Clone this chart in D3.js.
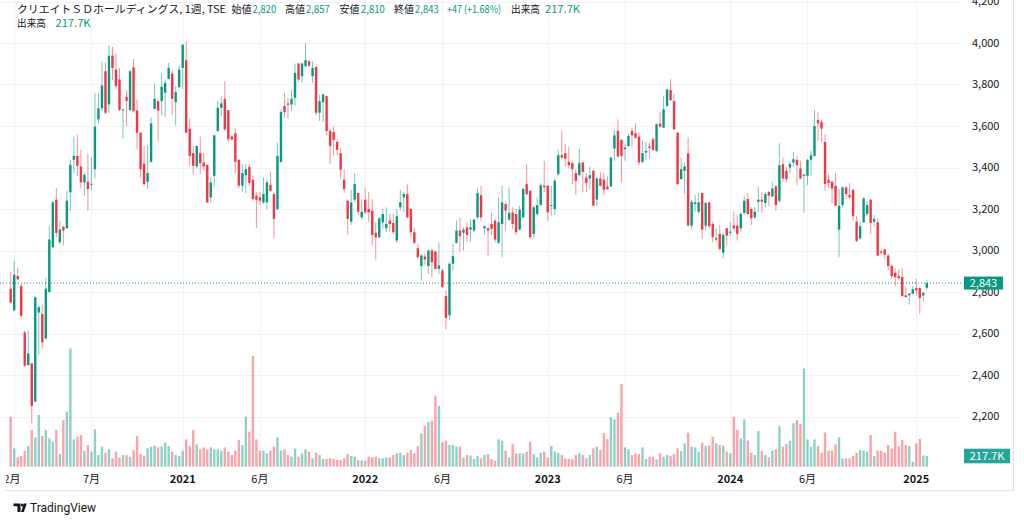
<!DOCTYPE html>
<html><head><meta charset="utf-8">
<script src="https://cdn.jsdelivr.net/npm/d3@7"></script>
<style>
body{margin:0;background:#fff;}
svg{display:block;font-family:"Noto Sans CJK JP","Noto Sans",sans-serif;}
</style>
</head><body>
<svg id="c" width="1024" height="523"></svg>
<script>
// ---------- DATA ----------
const startDate = "2020-01-27"; // first weekly bar (Monday)
const open = [2816,2712,2877,2829,2605,2448,2456,2272,2701,2694,2576,2800,3016,3245,3040,3115,3107,3280,3437,3456,3405,3328,3331,3320,3392,3632,3685,3864,3704,3939,3872,3824,3677,3741,3677,3883,3675,3568,3419,3331,3427,3683,3720,3720,3760,3827,3853,3715,3787,3880,3917,3587,
3469,3405,3469,3424,3413,3256,3360,3576,3688,3731,3677,3549,3565,3437,3312,3363,3403,3341,3264,3256,3232,3232,3317,3272,3200,3427,3696,3709,3704,3736,3901,3840,3888,3912,3840,3885,3664,3715,3744,3576,3571,3523,3469,3341,3240,3139,3245,3277,3160,3245,3200,3192,3085,
3064,3136,3107,3144,3133,3048,3208,3256,3272,3200,3088,3011,2925,2971,2925,3000,2995,2912,2904,2781,2688,2936,3037,3096,3085,3112,3101,3096,3160,3267,3107,3107,3128,3144,3037,3128,3224,3149,3184,3176,3101,3160,3320,3288,3080,3176,3219,3312,3312,3216,3200,3368,3459,
3469,3427,3421,3373,3363,3424,3352,3347,3384,3245,3347,3341,3309,3309,3491,3576,3533,3488,3504,3576,3565,3549,3427,3472,3501,3536,3480,3611,3592,3696,3773,3720,3568,3344,3384,3469,3120,3224,3187,3277,3120,3232,3128,3053,3080,2989,3107,3085,3120,3120,3107,3181,
3248,3200,3160,3235,3245,3229,3283,3261,3309,3240,3416,3384,3400,3424,3437,3395,3360,3360,3437,3456,3629,3619,3523,3341,3331,3312,3101,3219,3304,3267,3293,3139,3059,3136,3176,3245,3139,3136,2995,3005,2976,2925,2893,2877,2872,2784,2784,2792,2819,2819,2784,2820];
const high = [2899,2950,2917,2840,2614,2614,2460,2780,2736,2739,2867,3117,3240,3301,3144,3115,3286,3435,3549,3558,3485,3376,3466,3451,3760,3760,3912,3907,3990,3981,3949,3880,3683,3773,3872,3923,3728,3568,3504,3507,3640,3805,3731,3856,3824,3904,3872,3792,3891,3992,4008,3635,
3504,3507,3549,3469,3413,3352,3555,3720,3744,3816,3677,3555,3587,3440,3416,3416,3416,3360,3280,3280,3352,3341,3381,3280,3520,3680,3760,3736,3773,3901,3904,3904,4000,3917,3912,3885,3752,3757,3747,3587,3597,3536,3496,3392,3245,3293,3373,3277,3248,3299,3283,3248,3136,
3160,3200,3208,3176,3176,3200,3293,3283,3320,3203,3107,3032,2984,2984,3005,3008,3000,3037,2915,2808,2944,3032,3144,3155,3112,3136,3152,3152,3299,3312,3120,3112,3181,3149,3256,3312,3235,3304,3208,3200,3216,3304,3416,3288,3216,3256,3325,3432,3315,3312,3347,3485,3576,
3512,3501,3432,3392,3491,3427,3373,3405,3389,3352,3379,3373,3357,3451,3581,3632,3536,3512,3565,3592,3613,3568,3528,3523,3520,3549,3613,3667,3744,3779,3827,3752,3571,3448,3424,3544,3245,3267,3277,3277,3232,3232,3139,3107,3123,3085,3107,3136,3187,3171,3184,3261,
3277,3208,3208,3309,3280,3283,3283,3331,3315,3517,3448,3405,3432,3475,3456,3432,3368,3440,3480,3677,3667,3632,3560,3368,3336,3373,3296,3309,3309,3325,3293,3165,3136,3256,3240,3248,3171,3155,3008,3008,2984,2936,2912,2909,2915,2824,2797,2829,2864,2824,2800,2857];
const low = [2744,2707,2856,2672,2440,2444,2168,2269,2496,2528,2573,2797,3013,3064,3032,3024,3104,3192,3373,3360,3299,3264,3192,3293,3347,3613,3672,3656,3664,3821,3779,3672,3539,3600,3672,3664,3488,3352,3312,3296,3424,3680,3526,3651,3645,3824,3651,3603,3784,3779,3565,3408,
3365,3395,3368,3384,3229,3232,3309,3571,3648,3576,3523,3528,3373,3299,3283,3277,3312,3240,3109,3219,3224,3200,3283,3059,3192,3424,3640,3635,3672,3699,3811,3808,3885,3885,3808,3651,3624,3619,3555,3416,3456,3459,3344,3277,3077,3123,3232,3171,3149,3176,3139,3024,2957,
3059,3104,3088,3091,3080,3037,3192,3187,3155,3064,3032,2960,2856,2931,2888,2872,2909,2888,2819,2621,2664,2904,3032,2992,3000,3043,3043,3088,3149,3144,3075,2976,3075,3040,3032,2968,3096,3144,3104,3075,3096,3155,3267,3056,3059,3168,3216,3280,3144,3168,3171,3360,3440,
3405,3395,3320,3267,3360,3283,3280,3296,3213,3213,3309,3267,3293,3304,3432,3448,3328,3432,3501,3501,3536,3411,3421,3437,3443,3480,3475,3592,3589,3693,3720,3581,3315,3341,3272,3117,3101,3187,3176,3056,3096,3107,3040,3043,3000,2963,3024,3069,3091,3048,3091,3171,
3168,3123,3149,3184,3181,3208,3213,3256,3192,3229,3331,3328,3373,3405,3315,3344,3181,3315,3360,3453,3528,3523,3288,3299,3229,3213,2968,3208,3248,3251,3144,3040,3053,3133,3168,3080,3117,2973,2979,2960,2904,2864,2829,2856,2776,2771,2739,2787,2784,2696,2755,2810];
const close = [2749,2883,2861,2685,2445,2504,2251,2774,2726,2557,2816,3053,3232,3085,3101,3096,3240,3413,3456,3408,3328,3365,3296,3322,3597,3685,3795,3664,3939,3880,3792,3677,3680,3720,3864,3672,3568,3392,3320,3373,3613,3731,3674,3789,3808,3880,3731,3763,3872,3992,3568,3456,
3408,3504,3421,3405,3232,3328,3555,3688,3709,3584,3536,3536,3427,3312,3373,3392,3325,3248,3245,3240,3272,3328,3288,3152,3456,3667,3667,3702,3731,3856,3824,3901,3917,3891,3880,3664,3720,3752,3576,3504,3533,3485,3389,3296,3152,3232,3320,3187,3187,3184,3184,3075,3064,
3155,3176,3128,3128,3088,3165,3232,3272,3160,3088,3037,2968,2976,2957,3000,2944,2912,2928,2824,2675,2936,2973,3096,3069,3101,3075,3112,3149,3277,3160,3117,3096,3104,3053,3136,3232,3192,3181,3128,3088,3197,3296,3272,3064,3208,3219,3315,3304,3184,3219,3336,3459,3448,
3443,3411,3392,3336,3421,3379,3325,3363,3216,3347,3312,3293,3296,3448,3555,3453,3456,3496,3552,3555,3544,3424,3469,3480,3494,3485,3608,3597,3680,3776,3725,3584,3320,3392,3405,3120,3235,3232,3232,3101,3229,3117,3064,3059,3008,3075,3072,3091,3107,3080,3176,3240,
3176,3155,3187,3245,3235,3272,3264,3299,3219,3411,3347,3344,3416,3440,3411,3347,3366,3437,3459,3600,3613,3587,3320,3325,3299,3216,3216,3304,3272,3256,3165,3046,3117,3251,3219,3133,3152,2976,2989,2979,2925,2877,2872,2867,2781,2776,2792,2813,2808,2771,2796,2843];
const volume = [1020,373,190,217,325,420,746,597,1051,624,746,576,508,746,258,949,1119,2407,556,610,644,325,441,305,759,237,407,285,353,170,305,190,237,237,203,339,624,258,224,373,407,427,393,407,488,420,305,237,217,325,556,420,
746,454,353,393,353,393,353,353,325,393,305,237,325,542,441,1017,712,2251,556,325,325,271,325,407,597,325,353,237,203,373,203,271,353,305,170,285,237,156,156,170,156,136,136,170,258,217,203,136,122,122,203,190,203,
170,170,190,190,237,271,285,237,285,339,271,420,678,834,909,936,1444,1234,495,529,441,441,407,407,190,237,224,156,217,170,237,258,156,122,556,529,325,190,461,271,271,271,305,508,258,190,285,305,190,420,305,285,237,
170,156,149,237,271,237,170,237,373,407,339,678,563,1003,963,1098,1681,393,353,237,271,258,393,156,203,203,149,271,203,237,217,258,373,319,475,692,407,393,305,488,420,434,610,475,441,427,305,271,1017,746,576,963,
529,285,237,725,325,237,190,325,353,827,407,461,529,881,949,868,2000,556,407,556,420,285,698,325,325,454,597,170,170,170,217,285,339,325,305,644,217,325,325,285,441,366,712,420,542,441,420,102,475,563,231,217.7];

const priceTicks = [2200,2400,2600,2800,3000,3200,3400,3600,3800,4000,4200];
const timeTickDates = ["2020-02-03","2020-07-06","2021-01-04","2021-06-07","2022-01-03","2022-06-06","2023-01-02","2023-06-05","2024-01-01","2024-06-03","2025-01-06"];
const timeTickLabels = ["2月","7月","2021","6月","2022","6月","2023","6月","2024","6月","2025"];
const lastPrice = 2843;
const lastVolumeLabel = "217.7K";

// ---------- SETUP ----------
const UP = "#089981", DOWN = "#f23645", TXT = "#131722", GRID = "#f0f3fa";
const svg = d3.select("#c");
const fmtKey = d3.utcFormat("%Y-%m-%d");
const start = d3.utcParse("%Y-%m-%d")(startDate);
const bars = open.map((o, i) => ({
  key: fmtKey(d3.utcDay.offset(start, 7 * i)),
  o, h: high[i], l: low[i], c: close[i], v: volume[i]
}));

const step = 3.51;
const x = d3.scaleBand().domain(bars.map(d => d.key))
  .range([10.7 - step / 2, 10.7 - step / 2 + step * bars.length]).padding(0);
const cx = k => x(k) + x.bandwidth() / 2;
const y = d3.scaleLinear().domain([2000, 4200]).range([458, 1.5]);
const yv = d3.scaleLinear().domain([0, 217.7]).range([466.7, 456]);

const plotRight = 963;

svg.append("defs").append("clipPath").attr("id", "paneClip")
  .append("rect").attr("x", 6).attr("y", 0).attr("width", 1008).attr("height", 490);

// grid
svg.append("g").selectAll("line").data(priceTicks).join("line")
  .attr("x1", 0).attr("x2", plotRight)
  .attr("y1", d => Math.round(y(d)) + 0.5).attr("y2", d => Math.round(y(d)) + 0.5)
  .attr("stroke", GRID).attr("stroke-width", 1);
svg.append("g").selectAll("line").data(timeTickDates).join("line")
  .attr("x1", d => Math.round(cx(d)) + 0.5).attr("x2", d => Math.round(cx(d)) + 0.5)
  .attr("y1", 0).attr("y2", 466)
  .attr("stroke", GRID).attr("stroke-width", 1);

// frame
svg.append("line").attr("x1", 4).attr("x2", 1014).attr("y1", 490.5).attr("y2", 490.5).attr("stroke", "#e0e3eb");
svg.append("line").attr("x1", 1013.5).attr("x2", 1013.5).attr("y1", 0).attr("y2", 490.5).attr("stroke", "#e0e3eb");

// volume
const bw = 2.4;
svg.append("g").selectAll("rect").data(bars).join("rect")
  .attr("x", d => cx(d.key) - bw / 2)
  .attr("width", bw)
  .attr("y", d => yv(d.v))
  .attr("height", d => yv(0) - yv(d.v))
  .attr("fill", d => d.c >= d.o ? UP : DOWN)
  .attr("fill-opacity", 0.45);

// last price line
svg.append("line").attr("x1", 0).attr("x2", plotRight)
  .attr("y1", y(lastPrice)).attr("y2", y(lastPrice))
  .attr("stroke", UP).attr("stroke-width", 1).attr("stroke-dasharray", "1,2");

// wicks
svg.append("g").selectAll("line").data(bars).join("line")
  .attr("x1", d => cx(d.key)).attr("x2", d => cx(d.key))
  .attr("y1", d => y(d.h)).attr("y2", d => y(d.l))
  .attr("stroke", d => d.c >= d.o ? UP : DOWN)
  .attr("stroke-opacity", 0.55).attr("stroke-width", 1);

// bodies
svg.append("g").selectAll("rect").data(bars).join("rect")
  .attr("x", d => cx(d.key) - bw / 2)
  .attr("width", bw)
  .attr("y", d => y(Math.max(d.o, d.c)))
  .attr("height", d => Math.max(1, Math.abs(y(d.o) - y(d.c))))
  .attr("fill", d => d.c >= d.o ? UP : DOWN);

// price axis labels
const fmt = d3.format(",");
svg.append("g").selectAll("text").data(priceTicks).join("text")
  .attr("x", 972).attr("y", d => y(d)).attr("dy", "0.35em")
  .attr("font-size", 11).attr("fill", TXT).text(d => fmt(d));

// price badge
const py = y(lastPrice);
svg.append("rect").attr("x", 964).attr("y", py - 6.5).attr("width", 39).attr("height", 13).attr("fill", UP);
svg.append("text").attr("x", 983.5).attr("y", py).attr("dy", "0.35em").attr("text-anchor", "middle")
  .attr("font-size", 11).attr("fill", "#fff").text(fmt(lastPrice));
// volume badge
const vy = yv(volume[volume.length - 1]);
svg.append("rect").attr("x", 964).attr("y", vy - 7.3).attr("width", 46).attr("height", 14.6).attr("fill", "#26a69a");
svg.append("text").attr("x", 987).attr("y", vy).attr("dy", "0.35em").attr("text-anchor", "middle")
  .attr("font-size", 11).attr("fill", "#fff").text(lastVolumeLabel);

// time axis labels
svg.append("g").attr("clip-path", "url(#paneClip)").selectAll("text").data(timeTickDates).join("text")
  .attr("x", (d, i) => i === 0 ? 12 : cx(d)).attr("y", 479).attr("dy", "0.35em").attr("text-anchor", "middle")
  .attr("font-size", 11).attr("fill", TXT)
  .attr("font-weight", (d, i) => /^\d{4}$/.test(timeTickLabels[i]) ? 700 : 400)
  .text((d, i) => timeTickLabels[i]);

// header legend
const h = svg.append("g").attr("font-size", 10.5);
const seg = (tx, ty, s, col, w) => {
  const t = h.append("text").attr("x", tx).attr("y", ty).attr("dy", "0.35em").attr("fill", col).text(s);
  if (w) t.attr("textLength", w).attr("lengthAdjust", "spacingAndGlyphs");
};
const chg = lastPrice - close[close.length - 2];
seg(17, 9, "クリエイトＳＤホールディングス, 1週, TSE", TXT, 209);
seg(231.5, 9, "始値", TXT, 20); seg(252.6, 9, fmt(open[open.length - 1]), UP, 23.7);
seg(285, 9, "高値", TXT, 20); seg(306, 9, fmt(high[high.length - 1]), UP, 23.7);
seg(339.5, 9, "安値", TXT, 20); seg(361, 9, fmt(low[low.length - 1]), UP, 23.7);
seg(394, 9, "終値", TXT, 20); seg(415, 9, fmt(lastPrice), UP, 23.7);
seg(447, 9, "+" + chg + " (+" + (chg / close[close.length - 2] * 100).toFixed(2) + "%)", UP, 54);
seg(511, 9, "出来高", TXT, 29); seg(545, 9, lastVolumeLabel, UP, 35);
seg(17, 23, "出来高", TXT, 29); seg(55.5, 23, lastVolumeLabel, UP, 35);

// TradingView logo
const lg = svg.append("g").attr("fill", TXT);
lg.append("path").attr("d", "M13.5,503.5 H20.5 V512 H17.5 V506.3 H13.5 Z");
lg.append("circle").attr("cx", 22.3).attr("cy", 505).attr("r", 1.5);
lg.append("path").attr("d", "M21,512 L24,503.5 H26.8 L23.8,512 Z");
svg.append("text").attr("x", 30).attr("y", 507.5).attr("dy", "0.35em")
  .attr("font-size", 12).attr("fill", TXT).attr("font-family", "Roboto, 'Noto Sans', sans-serif")
  .text("TradingView");
</script>
</body></html>
